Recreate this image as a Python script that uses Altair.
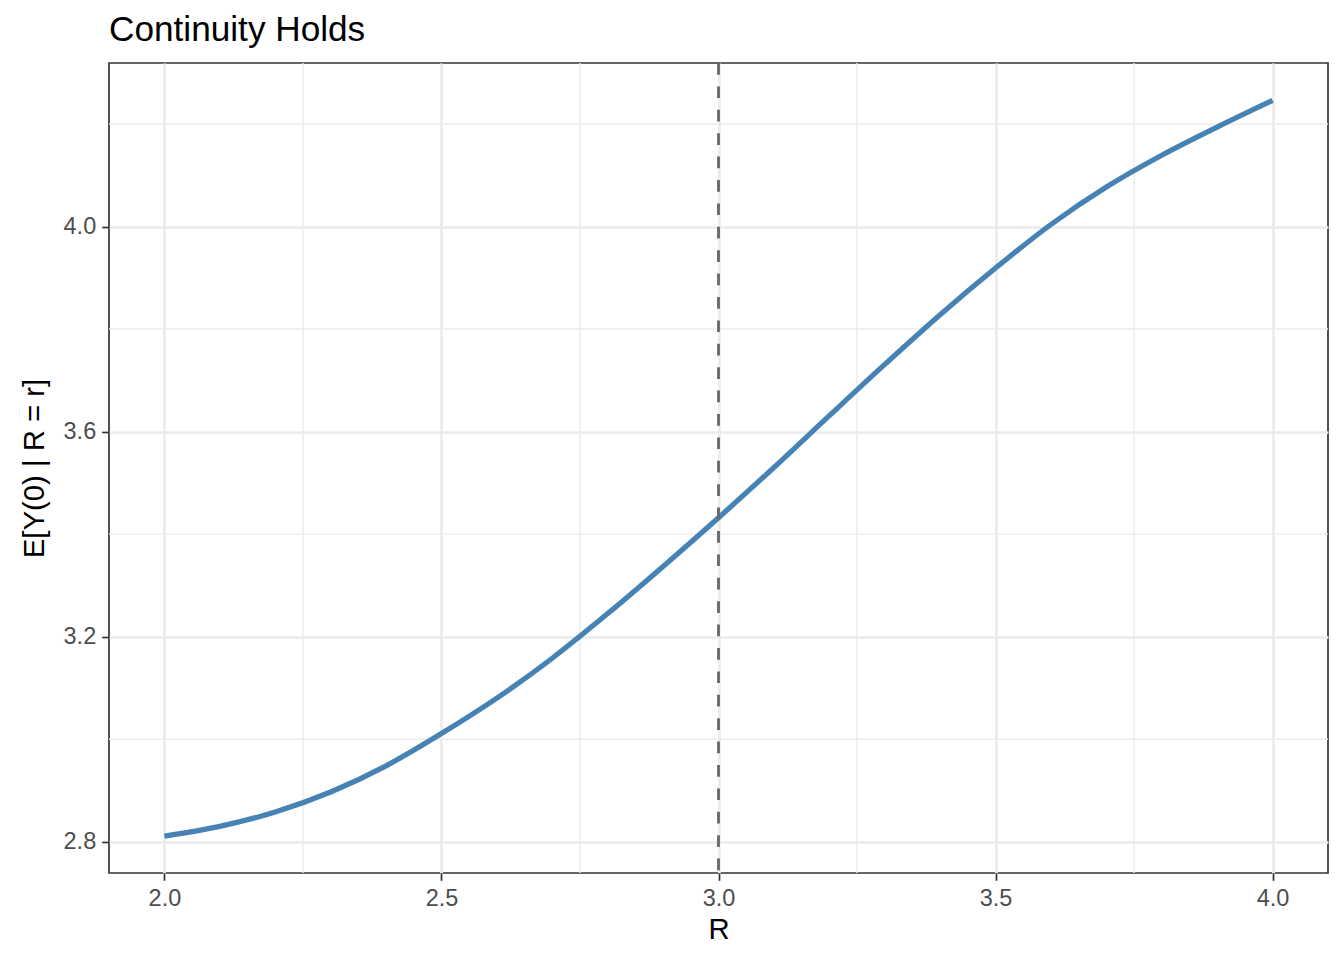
import altair as alt
import pandas as pd

# Data
r_values = [2.0, 2.1, 2.2, 2.3, 2.4, 2.5, 2.6, 2.7, 2.8, 2.9, 3.0,
            3.1, 3.2, 3.3, 3.4, 3.5, 3.6, 3.7, 3.8, 3.9, 4.0]
ey_values = [2.811, 2.830, 2.858, 2.897, 2.948, 3.011, 3.080, 3.158, 3.245, 3.337, 3.432,
             3.530, 3.631, 3.731, 3.828, 3.919, 4.004, 4.077, 4.139, 4.194, 4.246]
cutoff = [3.0]
x_ticks = [2.0, 2.5, 3.0, 3.5, 4.0]
x_minor = [2.25, 2.75, 3.25, 3.75]
y_ticks = [2.8, 3.2, 3.6, 4.0]
y_minor = [3.0, 3.4, 3.8, 4.2]

FONT = "Liberation Sans"
W, H = 1219, 810

curve = pd.DataFrame({"R": r_values, "EY": ey_values})
xs = alt.Scale(domain=[1.9, 4.1], nice=False, zero=False)
ys = alt.Scale(domain=[2.739, 4.319], nice=False, zero=False)

x_axis = alt.Axis(values=x_ticks, format=".1f", title="R", grid=True,
                  titleX=W / 2, titleY=65, titleBaseline="alphabetic", titleAlign="center")
y_axis = alt.Axis(values=y_ticks, format=".1f", title="E[Y(0) | R = r]", grid=True,
                  titleX=-66, titleY=H / 2, titleAngle=-90, titleBaseline="alphabetic",
                  titleAlign="center")

line = alt.Chart(curve).mark_line(
    color="#4682B4", strokeWidth=5.2, interpolate="monotone"
).encode(
    x=alt.X("R:Q", scale=xs, axis=x_axis),
    y=alt.Y("EY:Q", scale=ys, axis=y_axis),
)

minor_x = alt.Chart(pd.DataFrame({"R": x_minor})).mark_rule(
    color="#EBEBEB", strokeWidth=1.4
).encode(x=alt.X("R:Q", scale=xs, axis=x_axis))

minor_y = alt.Chart(pd.DataFrame({"EY": y_minor})).mark_rule(
    color="#EBEBEB", strokeWidth=1.4
).encode(y=alt.Y("EY:Q", scale=ys, axis=y_axis))

vline = alt.Chart(pd.DataFrame({"R": cutoff})).mark_rule(
    color="#666666", strokeWidth=2.8, strokeDash=[11.7, 11.7]
).encode(x=alt.X("R:Q", scale=xs, axis=x_axis))

chart = alt.layer(minor_x, minor_y, line, vline).properties(
    width=W, height=H,
    title=alt.TitleParams("Continuity Holds", anchor="start", frame="group",
                          baseline="alphabetic", offset=-15, fontSize=35.2,
                          font=FONT, fontWeight="normal", color="black"),
    padding={"left": 101, "top": 55, "right": 8, "bottom": 70},
    autosize=alt.AutoSizeParams(type="none"),
).configure(
    background="white",
).configure_view(
    stroke="#333333", strokeWidth=1.7, fill="white"
).configure_axis(
    domain=False,
    gridColor="#EBEBEB", gridWidth=2.7,
    tickColor="#333333", tickWidth=1.7, tickSize=7.3,
    labelColor="#4D4D4D", labelFont=FONT, labelFontSize=23.5, labelPadding=6,
    titleColor="black", titleFont=FONT, titleFontSize=29.3, titleFontWeight="normal",
)

chart.save("out.html", embed_options={"renderer": "svg", "actions": False})
